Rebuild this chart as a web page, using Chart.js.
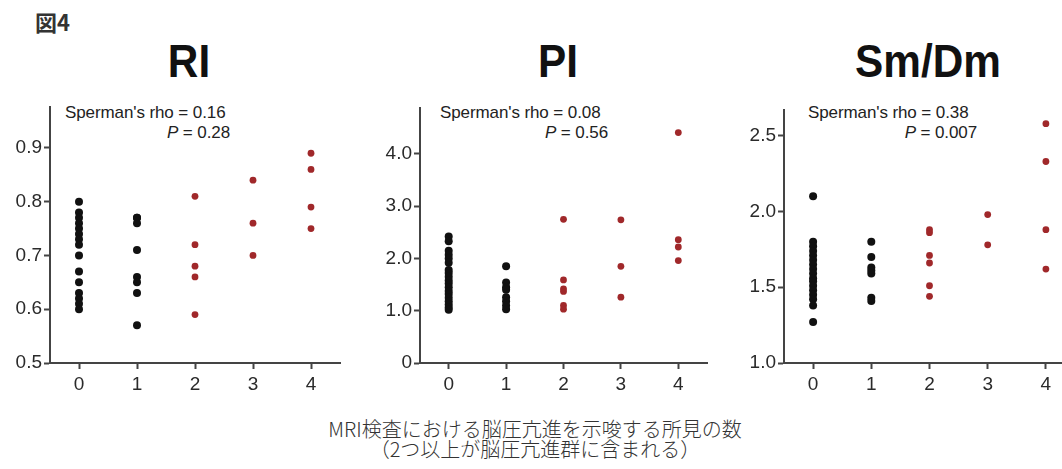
<!DOCTYPE html>
<html>
<head>
<meta charset="utf-8">
<script src="https://cdn.jsdelivr.net/npm/chart.js@4"></script>
<style>
  html, body { margin: 0; padding: 0; background: #fff; }
  body { width: 1062px; height: 469px; position: relative; overflow: hidden; font-family: "Liberation Sans", Arial, sans-serif; }
  canvas { position: absolute; top: 0; }
  .fig { position: absolute; left: 35px; top: 5px; font-size: 22px; font-weight: bold; color: #333; font-family: "Noto Sans CJK JP", sans-serif; }
  .ttl { position: absolute; top: 34px; font-size: 46px; color: #111; font-family: "Liberation Sans", Arial, sans-serif; font-weight: bold; transform: translateX(-50%) scaleX(0.92); white-space: nowrap; }
  .rho { position: absolute; font-size: 17px; line-height: 20px; color: #222; white-space: nowrap; letter-spacing: -0.1px; }
  .pv { position: absolute; font-size: 17px; line-height: 20px; color: #222; white-space: nowrap; text-align: right; letter-spacing: -0.1px; }
  .xl { position: absolute; left: 0; width: 1070px; top: 419px; text-align: center; font-size: 20px; line-height: 20px; color: #333; font-family: "Noto Sans CJK JP", sans-serif; font-weight: 300; }
</style>
</head>
<body>
<div class="fig">図4</div>
<div class="ttl" style="left:189px">RI</div>
<div class="ttl" style="left:558px">PI</div>
<div class="ttl" style="left:928px">Sm/Dm</div>

<div class="rho" style="left:65px; top:103px">Sperman's rho = 0.16</div>
<div class="pv" style="left:65px; width:165px; top:123px"><i>P</i> = 0.28</div>
<div class="rho" style="left:440px; top:103px">Sperman's rho = 0.08</div>
<div class="pv" style="left:440px; width:168px; top:123px"><i>P</i> = 0.56</div>
<div class="rho" style="left:808px; top:103px">Sperman's rho = 0.38</div>
<div class="pv" style="left:808px; width:169px; top:123px"><i>P</i> = 0.007</div>

<canvas id="riChart" width="350" height="410" style="left:0px"></canvas>
<canvas id="piChart" width="347" height="410" style="left:370px"></canvas>
<canvas id="smChart" width="351" height="410" style="left:734px"></canvas>

<div class="xl">MRI検査における脳圧亢進を示唆する所見の数<br>（2つ以上が脳圧亢進群に含まれる）</div>

<script>
// 所見の数 (x軸)
const categories = [0, 1, 2, 3, 4];

// RI
const riByCount = [
    [0.80, 0.78, 0.77, 0.76, 0.75, 0.74, 0.73, 0.72, 0.70, 0.67, 0.65, 0.63, 0.62, 0.61, 0.60],
    [0.77, 0.77, 0.76, 0.71, 0.66, 0.65, 0.63, 0.57],
    [0.81, 0.72, 0.68, 0.66, 0.59],
    [0.84, 0.76, 0.70],
    [0.89, 0.86, 0.79, 0.75]
];
const riTicks = [0.5, 0.6, 0.7, 0.8, 0.9];
const riTickLabels = ['0.5', '0.6', '0.7', '0.8', '0.9'];

// PI
const piByCount = [
    [2.42, 2.33, 2.15, 2.07, 2.00, 1.92, 1.78, 1.72, 1.65, 1.58, 1.52, 1.45, 1.38, 1.32, 1.25, 1.18, 1.12, 1.06, 1.02],
    [1.85, 1.54, 1.45, 1.40, 1.26, 1.18, 1.10, 1.03],
    [2.75, 1.59, 1.42, 1.37, 1.10, 1.03],
    [2.74, 1.85, 1.26],
    [4.41, 2.36, 2.22, 1.96]
];
const piTicks = [0, 1, 2, 3, 4];
const piTickLabels = ['0', '1.0', '2.0', '3.0', '4.0'];

// Sm/Dm
const smByCount = [
    [2.10, 1.80, 1.77, 1.74, 1.71, 1.68, 1.65, 1.62, 1.59, 1.56, 1.54, 1.51, 1.48, 1.45, 1.42, 1.38, 1.27],
    [1.80, 1.70, 1.63, 1.61, 1.59, 1.43, 1.41],
    [1.88, 1.86, 1.71, 1.66, 1.51, 1.44],
    [1.98, 1.78],
    [2.58, 2.33, 1.88, 1.62]
];
const smTicks = [1.0, 1.5, 2.0, 2.5];
const smTickLabels = ['1.0', '1.5', '2.0', '2.5'];

const axisColor = '#444444';
const black = '#111111';
const red = '#a0282a';

function toPoints(byCount, from, to) {
    const pts = [];
    for (let i = from; i <= to; i++) {
        byCount[i].forEach(function (v) { pts.push({ x: categories[i], y: v }); });
    }
    return pts;
}

function makeChart(id, byCount, yMin, yMax, yTicks, yLabels, padTop) {
    const ctx = document.getElementById(id).getContext('2d');
    return new Chart(ctx, {
        type: 'scatter',
        data: {
            datasets: [
                { data: toPoints(byCount, 0, 1), backgroundColor: black, borderWidth: 0, pointRadius: 4 },
                { data: toPoints(byCount, 2, 4), backgroundColor: red, borderWidth: 0, pointRadius: 3.4 }
            ]
        },
        options: {
            responsive: false,
            animation: false,
            layout: { padding: { top: padTop, right: 10, left: 0, bottom: 0 } },
            plugins: { legend: { display: false }, tooltip: { enabled: false } },
            scales: {
                x: {
                    type: 'linear',
                    min: -0.5,
                    max: 4.5,
                    afterBuildTicks: function (scale) { scale.ticks = categories.map(function (v) { return { value: v }; }); },
                    afterFit: function (scale) { scale.height = 47; },
                    border: { display: true, color: axisColor, width: 2 },
                    grid: { drawOnChartArea: false, drawTicks: true, tickLength: 6, tickColor: axisColor, tickWidth: 2 },
                    ticks: { color: '#2a2a2a', padding: 4, font: { family: 'Arial', size: 19 } }
                },
                y: {
                    min: yMin,
                    max: yMax,
                    afterBuildTicks: function (scale) { scale.ticks = yTicks.map(function (v) { return { value: v }; }); },
                    afterFit: function (scale) { scale.width = 50; },
                    border: { display: true, color: axisColor, width: 2 },
                    grid: { drawOnChartArea: false, drawTicks: true, tickLength: 6, tickColor: axisColor, tickWidth: 2 },
                    ticks: {
                        color: '#2a2a2a',
                        padding: 2,
                        font: { family: 'Arial', size: 19 },
                        callback: function (v, i) { return yLabels[i]; }
                    }
                }
            }
        }
    });
}

makeChart('riChart', riByCount, 0.5, 0.976, riTicks, riTickLabels, 107);
makeChart('piChart', piByCount, 0, 4.88, piTicks, piTickLabels, 108);
makeChart('smChart', smByCount, 1.0, 2.67, smTicks, smTickLabels, 110);
</script>
</body>
</html>
